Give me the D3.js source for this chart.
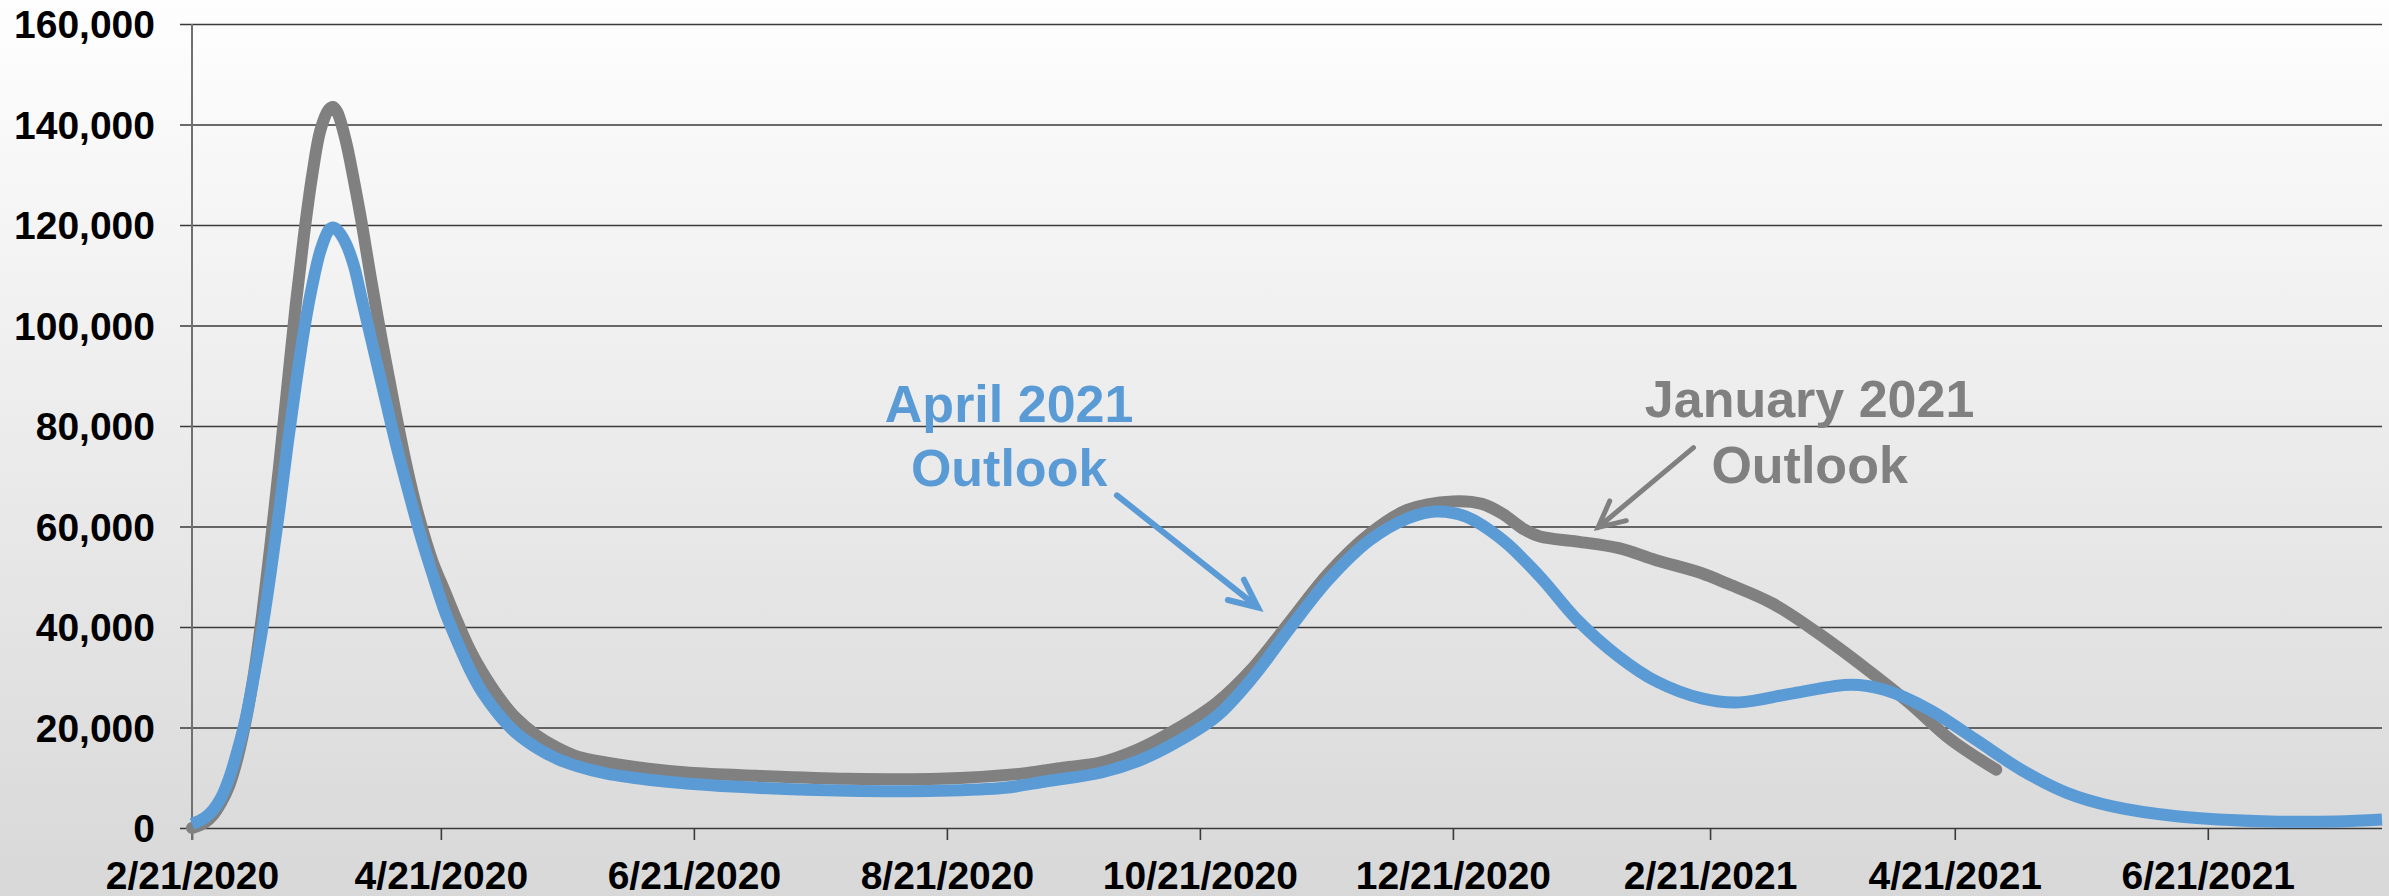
<!DOCTYPE html>
<html lang="en">
<head>
<meta charset="UTF-8">
<script src="https://d3js.org/d3.v7.min.js"></script>
<title>Outlook comparison</title>
<style>
  html, body { margin: 0; padding: 0; }
  svg { display: block; font-family: "Liberation Sans", Arial, sans-serif; font-weight: bold; }
</style>
</head>
<body>
<svg width="2389" height="896"></svg>
<script>
// tick labels
var xTickLabels = ["2/21/2020", "4/21/2020", "6/21/2020", "8/21/2020", "10/21/2020",
                   "12/21/2020", "2/21/2021", "4/21/2021", "6/21/2021"];
var yTicks = [0, 20000, 40000, 60000, 80000, 100000, 120000, 140000, 160000];
var xDomain = ["2/21/2020", "8/2/2021"];

// April 2021 outlook (blue)
var aprilDates = ["2/21/2020", "2/24/2020", "2/26/2020", "2/28/2020", "3/1/2020", "3/3/2020", "3/5/2020",
  "3/7/2020", "3/9/2020", "3/11/2020", "3/13/2020", "3/15/2020", "3/17/2020", "3/19/2020", "3/21/2020",
  "3/23/2020", "3/25/2020", "3/26/2020", "3/27/2020", "3/29/2020", "3/31/2020", "4/2/2020", "4/4/2020",
  "4/7/2020", "4/10/2020", "4/13/2020", "4/16/2020", "4/19/2020", "4/22/2020", "4/25/2020", "4/28/2020",
  "5/1/2020", "5/5/2020", "5/9/2020", "5/14/2020", "5/19/2020", "5/24/2020", "5/31/2020", "6/10/2020",
  "6/20/2020", "7/6/2020", "7/28/2020", "8/19/2020", "9/4/2020", "9/14/2020", "9/27/2020", "10/6/2020",
  "10/15/2020", "10/25/2020", "11/3/2020", "11/12/2020", "11/21/2020", "12/1/2020", "12/10/2020",
  "12/17/2020", "12/24/2020", "1/2/2021", "1/11/2021", "1/20/2021", "1/30/2021", "2/8/2021", "2/19/2021",
  "2/28/2021", "3/13/2021", "3/27/2021", "4/4/2021", "4/15/2021", "4/26/2021", "5/7/2021", "5/18/2021",
  "5/29/2021", "6/14/2021", "7/6/2021", "7/22/2021", "8/2/2021"];
var aprilValues = [800, 2000, 3500, 6000, 10000, 15500, 22000,
  30500, 40000, 51000, 63000, 76000, 88000, 99000, 108000,
  115000, 119000, 119500, 119000, 116500, 112000, 105000, 98000,
  87500, 77000, 67500, 58500, 50500, 43000, 37000, 31500,
  27000, 22500, 19000, 16000, 13800, 12300, 10800, 9600,
  8800, 8000, 7400, 7400, 8000, 9300, 11000, 13300,
  16900, 22200, 30200, 40100, 49400, 57300, 61600,
  63000, 62000, 57300, 50000, 41400, 34100, 29200, 25800,
  25000, 26800, 28500, 27500, 23500, 17600, 11600, 7000,
  4300, 2300, 1300, 1300, 1700];

// January 2021 outlook (gray)
var januaryDates = ["2/21/2020", "2/24/2020", "2/26/2020", "2/28/2020", "3/1/2020", "3/3/2020", "3/5/2020",
  "3/7/2020", "3/9/2020", "3/11/2020", "3/13/2020", "3/15/2020", "3/17/2020", "3/19/2020", "3/21/2020",
  "3/23/2020", "3/25/2020", "3/26/2020", "3/27/2020", "3/29/2020", "3/31/2020", "4/2/2020", "4/4/2020",
  "4/7/2020", "4/10/2020", "4/13/2020", "4/16/2020", "4/19/2020", "4/22/2020", "4/25/2020", "4/28/2020",
  "5/1/2020", "5/5/2020", "5/9/2020", "5/14/2020", "5/19/2020", "5/24/2020", "5/31/2020", "6/10/2020",
  "6/20/2020", "7/6/2020", "7/28/2020", "8/19/2020", "9/9/2020", "9/18/2020", "9/27/2020", "10/6/2020",
  "10/15/2020", "10/25/2020", "11/3/2020", "11/12/2020", "11/21/2020", "12/1/2020", "12/10/2020",
  "12/21/2020", "12/28/2020", "1/2/2021", "1/7/2021", "1/11/2021", "1/20/2021", "1/30/2021", "2/8/2021",
  "2/19/2021", "2/25/2021", "3/8/2021", "3/19/2021", "3/30/2021", "4/10/2021", "4/20/2021", "5/1/2021"];
var januaryValues = [0, 1000, 2500, 5000, 8500, 14000, 21500,
  31000, 43000, 57000, 72000, 88000, 104000, 118000, 130000,
  139000, 143000, 143500, 142500, 137000, 129000, 120000, 110000,
  96000, 83000, 71000, 61000, 53000, 47000, 41000, 35500,
  31000, 26000, 22000, 18500, 16000, 14200, 13000, 11800,
  11000, 10400, 9800, 9800, 10900, 12000, 13000, 15600,
  19500, 24900, 32100, 41400, 50700, 58600, 63300,
  65000, 64500, 62500, 59500, 58000, 57000, 55700, 53300,
  50700, 48700, 44700, 38800, 32100, 24900, 17600, 11600];

// annotation text and anchors (date, value)
var aprilLabel = ["April 2021", "Outlook"];
var aprilLabelAt = ["9/5/2020", 80700, 68000];
var aprilArrow = [["10/1/2020", 66200], ["11/4/2020", 43900]];
var januaryLabel = ["January 2021", "Outlook"];
var januaryLabelAt = ["3/17/2021", 81700, 68600];
var januaryArrow = [["2/17/2021", 75700], ["1/25/2021", 59800]];

var blue = "#5b9bd5", gray = "#808080";

var parse = d3.timeParse("%m/%d/%Y");
var svg = d3.select("svg");
var W = +svg.attr("width"), H = +svg.attr("height");
var margin = {left: 192, right: 7, top: 24, bottom: 68};
var width = W - margin.left - margin.right;
var height = H - margin.top - margin.bottom;

// background gradient
var grad = svg.append("defs").append("linearGradient")
  .attr("id", "bg").attr("x1", 0).attr("y1", 0).attr("x2", 0).attr("y2", 1);
grad.append("stop").attr("offset", "0%").attr("stop-color", "#fefefe");
grad.append("stop").attr("offset", "100%").attr("stop-color", "#d8d8d8");
svg.append("rect").attr("width", W).attr("height", H).attr("fill", "url(#bg)");

var g = svg.append("g").attr("transform", "translate(" + margin.left + "," + margin.top + ")");

var x = d3.scaleTime().domain(xDomain.map(parse)).range([0, width]);
var y = d3.scaleLinear().domain([0, 160000]).range([height, 0]);

// y axis with gridlines
var yAxis = g.append("g")
  .call(d3.axisLeft(y).tickValues(yTicks).tickFormat(d3.format(",")).tickSize(-width).tickPadding(37));
yAxis.select(".domain").remove();
yAxis.selectAll(".tick line").attr("x1", -12).attr("stroke", "#3a3a3a").attr("stroke-width", 1.6);
yAxis.selectAll(".tick text")
  .attr("font-size", 39).attr("font-family", "Liberation Sans, Arial, sans-serif")
  .attr("font-weight", "bold").attr("fill", "#000").attr("dy", "0.35em");

// x axis
var xAxis = g.append("g")
  .attr("transform", "translate(0," + height + ")")
  .call(d3.axisBottom(x).tickValues(xTickLabels.map(parse)).tickFormat(d3.timeFormat("%-m/%-d/%Y")).tickSize(12));
xAxis.select(".domain").remove();
xAxis.selectAll(".tick line").attr("stroke", "#3a3a3a").attr("stroke-width", 1.6);
xAxis.selectAll(".tick text")
  .attr("y", 61).attr("dy", 0)
  .attr("font-size", 39).attr("font-family", "Liberation Sans, Arial, sans-serif")
  .attr("font-weight", "bold").attr("fill", "#000");

// vertical axis line
g.append("line")
  .attr("x1", 0).attr("x2", 0).attr("y1", y(160000)).attr("y2", height + 12)
  .attr("stroke", "#707070").attr("stroke-width", 2);

var line = d3.line()
  .x(d => x(d[0]))
  .y(d => y(d[1]))
  .curve(d3.curveCatmullRom.alpha(0.5));

var januaryData = januaryDates.map((d, i) => [parse(d), januaryValues[i]]);
var aprilData = aprilDates.map((d, i) => [parse(d), aprilValues[i]]);

g.append("path").datum(januaryData)
  .attr("d", line).attr("fill", "none")
  .attr("stroke", gray).attr("stroke-width", 12)
  .attr("stroke-linecap", "round").attr("stroke-linejoin", "round");

g.append("path").datum(aprilData)
  .attr("d", line).attr("fill", "none")
  .attr("stroke", blue).attr("stroke-width", 12)
  .attr("stroke-linecap", "butt").attr("stroke-linejoin", "round");

// annotations
function label(lines, at, color) {
  var cx = x(parse(at[0]));
  lines.forEach(function(t, i) {
    g.append("text")
      .attr("x", cx).attr("y", y(at[i + 1]))
      .attr("text-anchor", "middle")
      .attr("font-size", 52).attr("font-weight", "bold")
      .attr("fill", color)
      .text(t);
  });
}

function arrow(pts, color, sw, headLen, headAngle) {
  var x1 = x(parse(pts[0][0])), y1 = y(pts[0][1]);
  var x2 = x(parse(pts[1][0])), y2 = y(pts[1][1]);
  var back = Math.atan2(y1 - y2, x1 - x2);
  var a1 = back - headAngle, a2 = back + headAngle;
  var path = d3.path();
  path.moveTo(x1, y1);
  path.lineTo(x2, y2);
  path.moveTo(x2 + headLen * Math.cos(a1), y2 + headLen * Math.sin(a1));
  path.lineTo(x2, y2);
  path.lineTo(x2 + headLen * Math.cos(a2), y2 + headLen * Math.sin(a2));
  g.append("path").attr("d", path.toString())
    .attr("fill", "none").attr("stroke", color).attr("stroke-width", sw)
    .attr("stroke-linecap", "round").attr("stroke-linejoin", "miter");
}

label(aprilLabel, aprilLabelAt, blue);
arrow(aprilArrow, blue, 6, 31, 0.43);
label(januaryLabel, januaryLabelAt, gray);
arrow(januaryArrow, gray, 5, 29, 0.46);
</script>
</body>
</html>
